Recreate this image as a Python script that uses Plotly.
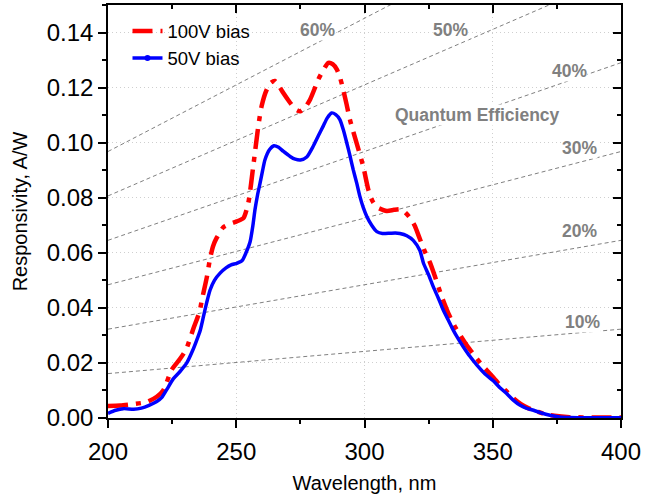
import plotly.graph_objects as go

# ---- data ----
wl_50 = [200, 203, 206, 210, 213, 216, 219, 221, 223, 225.5, 228, 230.7, 233, 234.6, 236, 237.2,
         238.5, 239.8, 241.5, 243.7, 246, 248, 250.2, 252.3, 253.8, 255.4, 256.5, 257.3, 258.3,
         259.3, 260.3, 261.2, 263, 264.7, 266.5, 268.3, 271, 273, 275, 277.5, 280, 282, 283.9,
         285.5, 287.2, 288.8, 290.4, 291.8, 293.1, 294.4, 295.6, 297, 298.2, 299.5, 300.9, 302.8,
         304.8, 307, 309.9, 312, 313.8, 316.5, 319, 321.6, 323, 325, 326.8, 328.8, 330.7, 332.7,
         334.6, 336.5, 338.5, 341, 344, 347, 350.2, 352.8, 355.4, 358, 360.7, 363, 365.9, 369,
         372.3, 376, 380, 390, 400]
resp_50 = [0.0017, 0.0028, 0.0034, 0.0032, 0.0036, 0.0046, 0.0060, 0.0075, 0.0105, 0.0143, 0.0168,
           0.0200, 0.0245, 0.0283, 0.0320, 0.0368, 0.0420, 0.0465, 0.0500, 0.0526, 0.0545, 0.0556,
           0.0562, 0.0572, 0.0600, 0.0640, 0.0700, 0.0756, 0.0810, 0.0854, 0.0900, 0.0938, 0.0975,
           0.0989, 0.0983, 0.0969, 0.0950, 0.0940, 0.0937, 0.0948, 0.0987, 0.1025, 0.1060, 0.1090,
           0.1108, 0.1102, 0.1084, 0.1045, 0.0999, 0.0950, 0.0902, 0.0852, 0.0805, 0.0765, 0.0732,
           0.0700, 0.0677, 0.0670, 0.0671, 0.0672, 0.0670, 0.0662, 0.0645, 0.0608, 0.0562, 0.0520,
           0.0477, 0.0435, 0.0392, 0.0355, 0.0319, 0.0288, 0.0259, 0.0225, 0.0190, 0.0160, 0.0135,
           0.0110, 0.0089, 0.0065, 0.0046, 0.0036, 0.0028, 0.0018, 0.0010, 0.0004, 0.0002, 0.0001,
           0.0001]

wl_100 = [200, 204.7, 209.7, 215, 219, 221.6, 224.8, 228.1, 230.5, 233.3, 235.7, 236.6, 238.5, 239.8,
          241, 242.4, 245, 247.5, 250.2, 252.8, 254.7, 256.7, 258.6, 259.9, 261.9, 263.5, 265.1,
          266.7, 268.3, 271, 273, 274.9, 277, 278.8, 280.5, 282, 284, 285.9, 287.6, 289.2, 290.5,
          291.7, 293, 294.3, 296.9, 299.5, 301.5, 303, 304.8, 308.7, 311.5, 314, 315.1, 317.5,
          319.5, 321.6, 323.5, 325.5, 327.5, 330.1, 332.7, 335.3, 337.5, 339.8, 343, 346, 349,
          352, 355, 358, 361, 364, 367, 370, 374, 380, 390, 400]
resp_100 = [0.0044, 0.0045, 0.0050, 0.0058, 0.0077, 0.0101, 0.0175, 0.0215, 0.0250, 0.0325, 0.0386,
            0.0429, 0.0510, 0.0580, 0.0625, 0.0655, 0.0693, 0.0705, 0.0714, 0.0726, 0.0781, 0.0920,
            0.1060, 0.1133, 0.1193, 0.1218, 0.1224, 0.1205, 0.1181, 0.1145, 0.1122, 0.1114, 0.1130,
            0.1157, 0.1195, 0.1230, 0.1265, 0.1290, 0.1285, 0.1266, 0.1235, 0.1193, 0.1140, 0.1084,
            0.0999, 0.0914, 0.0829, 0.0790, 0.0766, 0.0752, 0.0756, 0.0758, 0.0753, 0.0730, 0.0700,
            0.0650, 0.0605, 0.0565, 0.0513, 0.0441, 0.0380, 0.0331, 0.0298, 0.0265, 0.0225, 0.0190,
            0.0160, 0.0128, 0.0100, 0.0072, 0.0050, 0.0035, 0.0025, 0.0015, 0.0008, 0.0003, 0.0002,
            0.0002]

# iso-quantum-efficiency reference lines: R = QE * lambda / 1239.84
qe_levels = [0.1, 0.2, 0.3, 0.4, 0.5, 0.6]
qe_wl = [200, 400]
qe_labels = ["10%", "20%", "30%", "40%", "50%", "60%"]
qe_label_x = [384.8, 384, 384, 380.1, 333.7, 281.5]
qe_label_y = [0.0348, 0.068, 0.0982, 0.1259, 0.1408, 0.1408]

x_ticks = [200, 250, 300, 350, 400]
y_ticks = [0.00, 0.02, 0.04, 0.06, 0.08, 0.10, 0.12, 0.14]

FONT = "Liberation Sans, Arial, sans-serif"
fig = go.Figure()

for q in qe_levels:
    fig.add_trace(go.Scatter(
        x=qe_wl, y=[q * w / 1239.84 for w in qe_wl], mode="lines",
        line=dict(color="#808080", width=1, dash="4px,3px"),
        showlegend=False, hoverinfo="skip"))

fig.add_trace(go.Scatter(
    x=wl_100, y=resp_100, mode="lines", name="100V bias",
    line=dict(color="#ff0000", width=4.5, dash="20px,8px,5px,8px", shape="spline", smoothing=0.6)))
fig.add_trace(go.Scatter(
    x=wl_50, y=resp_50, mode="lines", name="50V bias", showlegend=False,
    line=dict(color="#0000ff", width=3.5, shape="spline", smoothing=0.6)))
fig.add_trace(go.Scatter(
    x=[None], y=[None], mode="lines+markers", name="50V bias",
    line=dict(color="#0000ff", width=3.5), marker=dict(color="#0000ff", size=6)))

QE_FONT = dict(family=FONT, size=17.5, color="#808080", weight="bold")
for t, xx, yy in zip(qe_labels, qe_label_x, qe_label_y):
    fig.add_annotation(x=xx, y=yy, text=t, showarrow=False, bgcolor="white",
                       font=QE_FONT, borderpad=0)
fig.add_annotation(x=343.9, y=0.1102, text="Quantum Efficiency", showarrow=False, bgcolor="white",
                   font=QE_FONT, borderpad=0)

axis_common = dict(showline=True, linecolor="black", linewidth=1.5, ticks="outside",
                   ticklen=8, tickwidth=1.5, tickcolor="black", zeroline=False,
                   tickfont=dict(family=FONT, size=24, color="black"),
                   showgrid=True, gridcolor="#cfcfcf", griddash="1px,3px", gridwidth=1,
                   automargin=False)

fig.update_layout(
    width=653, height=494, margin=dict(l=108, r=32, t=5, b=76),
    plot_bgcolor="white", paper_bgcolor="white",
    font=dict(family=FONT, color="black"),
    xaxis=dict(range=[200, 400], tickvals=x_ticks, ticktext=[str(v) for v in x_ticks],
               minor=dict(ticks="outside", ticklen=4, tickwidth=1.5, tickcolor="black", dtick=25,
                          showgrid=False),
               title=dict(text="Wavelength, nm", font=dict(family=FONT, size=20), standoff=18),
               ticklabelstandoff=3, **axis_common),
    yaxis=dict(range=[0, 0.15], tickvals=y_ticks, ticktext=[f"{v:.2f}" for v in y_ticks],
               minor=dict(ticks="outside", ticklen=4, tickwidth=1.5, tickcolor="black", dtick=0.01,
                          showgrid=False),
               title=dict(text="Responsivity, A/W", font=dict(family=FONT, size=20), standoff=14),
               ticklabelstandoff=0, **axis_common),
    xaxis2=dict(overlaying="x", matches="x", side="top", range=[200, 400], showline=True,
                linecolor="black", linewidth=1.5, ticks="inside", ticklen=8, tickwidth=1.5,
                tickcolor="black", tickvals=x_ticks, showticklabels=False, showgrid=False,
                zeroline=False, automargin=False,
                minor=dict(ticks="inside", ticklen=4, tickwidth=1.5, tickcolor="black", dtick=25)),
    yaxis2=dict(overlaying="y", matches="y", side="right", range=[0, 0.15], showline=True,
                linecolor="black", linewidth=1.5, ticks="inside", ticklen=8, tickwidth=1.5,
                tickcolor="black", tickvals=y_ticks, showticklabels=False, showgrid=False,
                zeroline=False, automargin=False,
                minor=dict(ticks="inside", ticklen=4, tickwidth=1.5, tickcolor="black", dtick=0.01)),
    legend=dict(x=0.038, y=0.982, xanchor="left", yanchor="top", bgcolor="rgba(0,0,0,0)",
                font=dict(family=FONT, size=18.5, color="black"), tracegroupgap=0),
    showlegend=True,
)
# dummy trace to activate the mirrored axes
fig.add_trace(go.Scatter(x=[None], y=[None], xaxis="x2", yaxis="y2", showlegend=False,
                         hoverinfo="skip"))

fig.write_html("out.html")
